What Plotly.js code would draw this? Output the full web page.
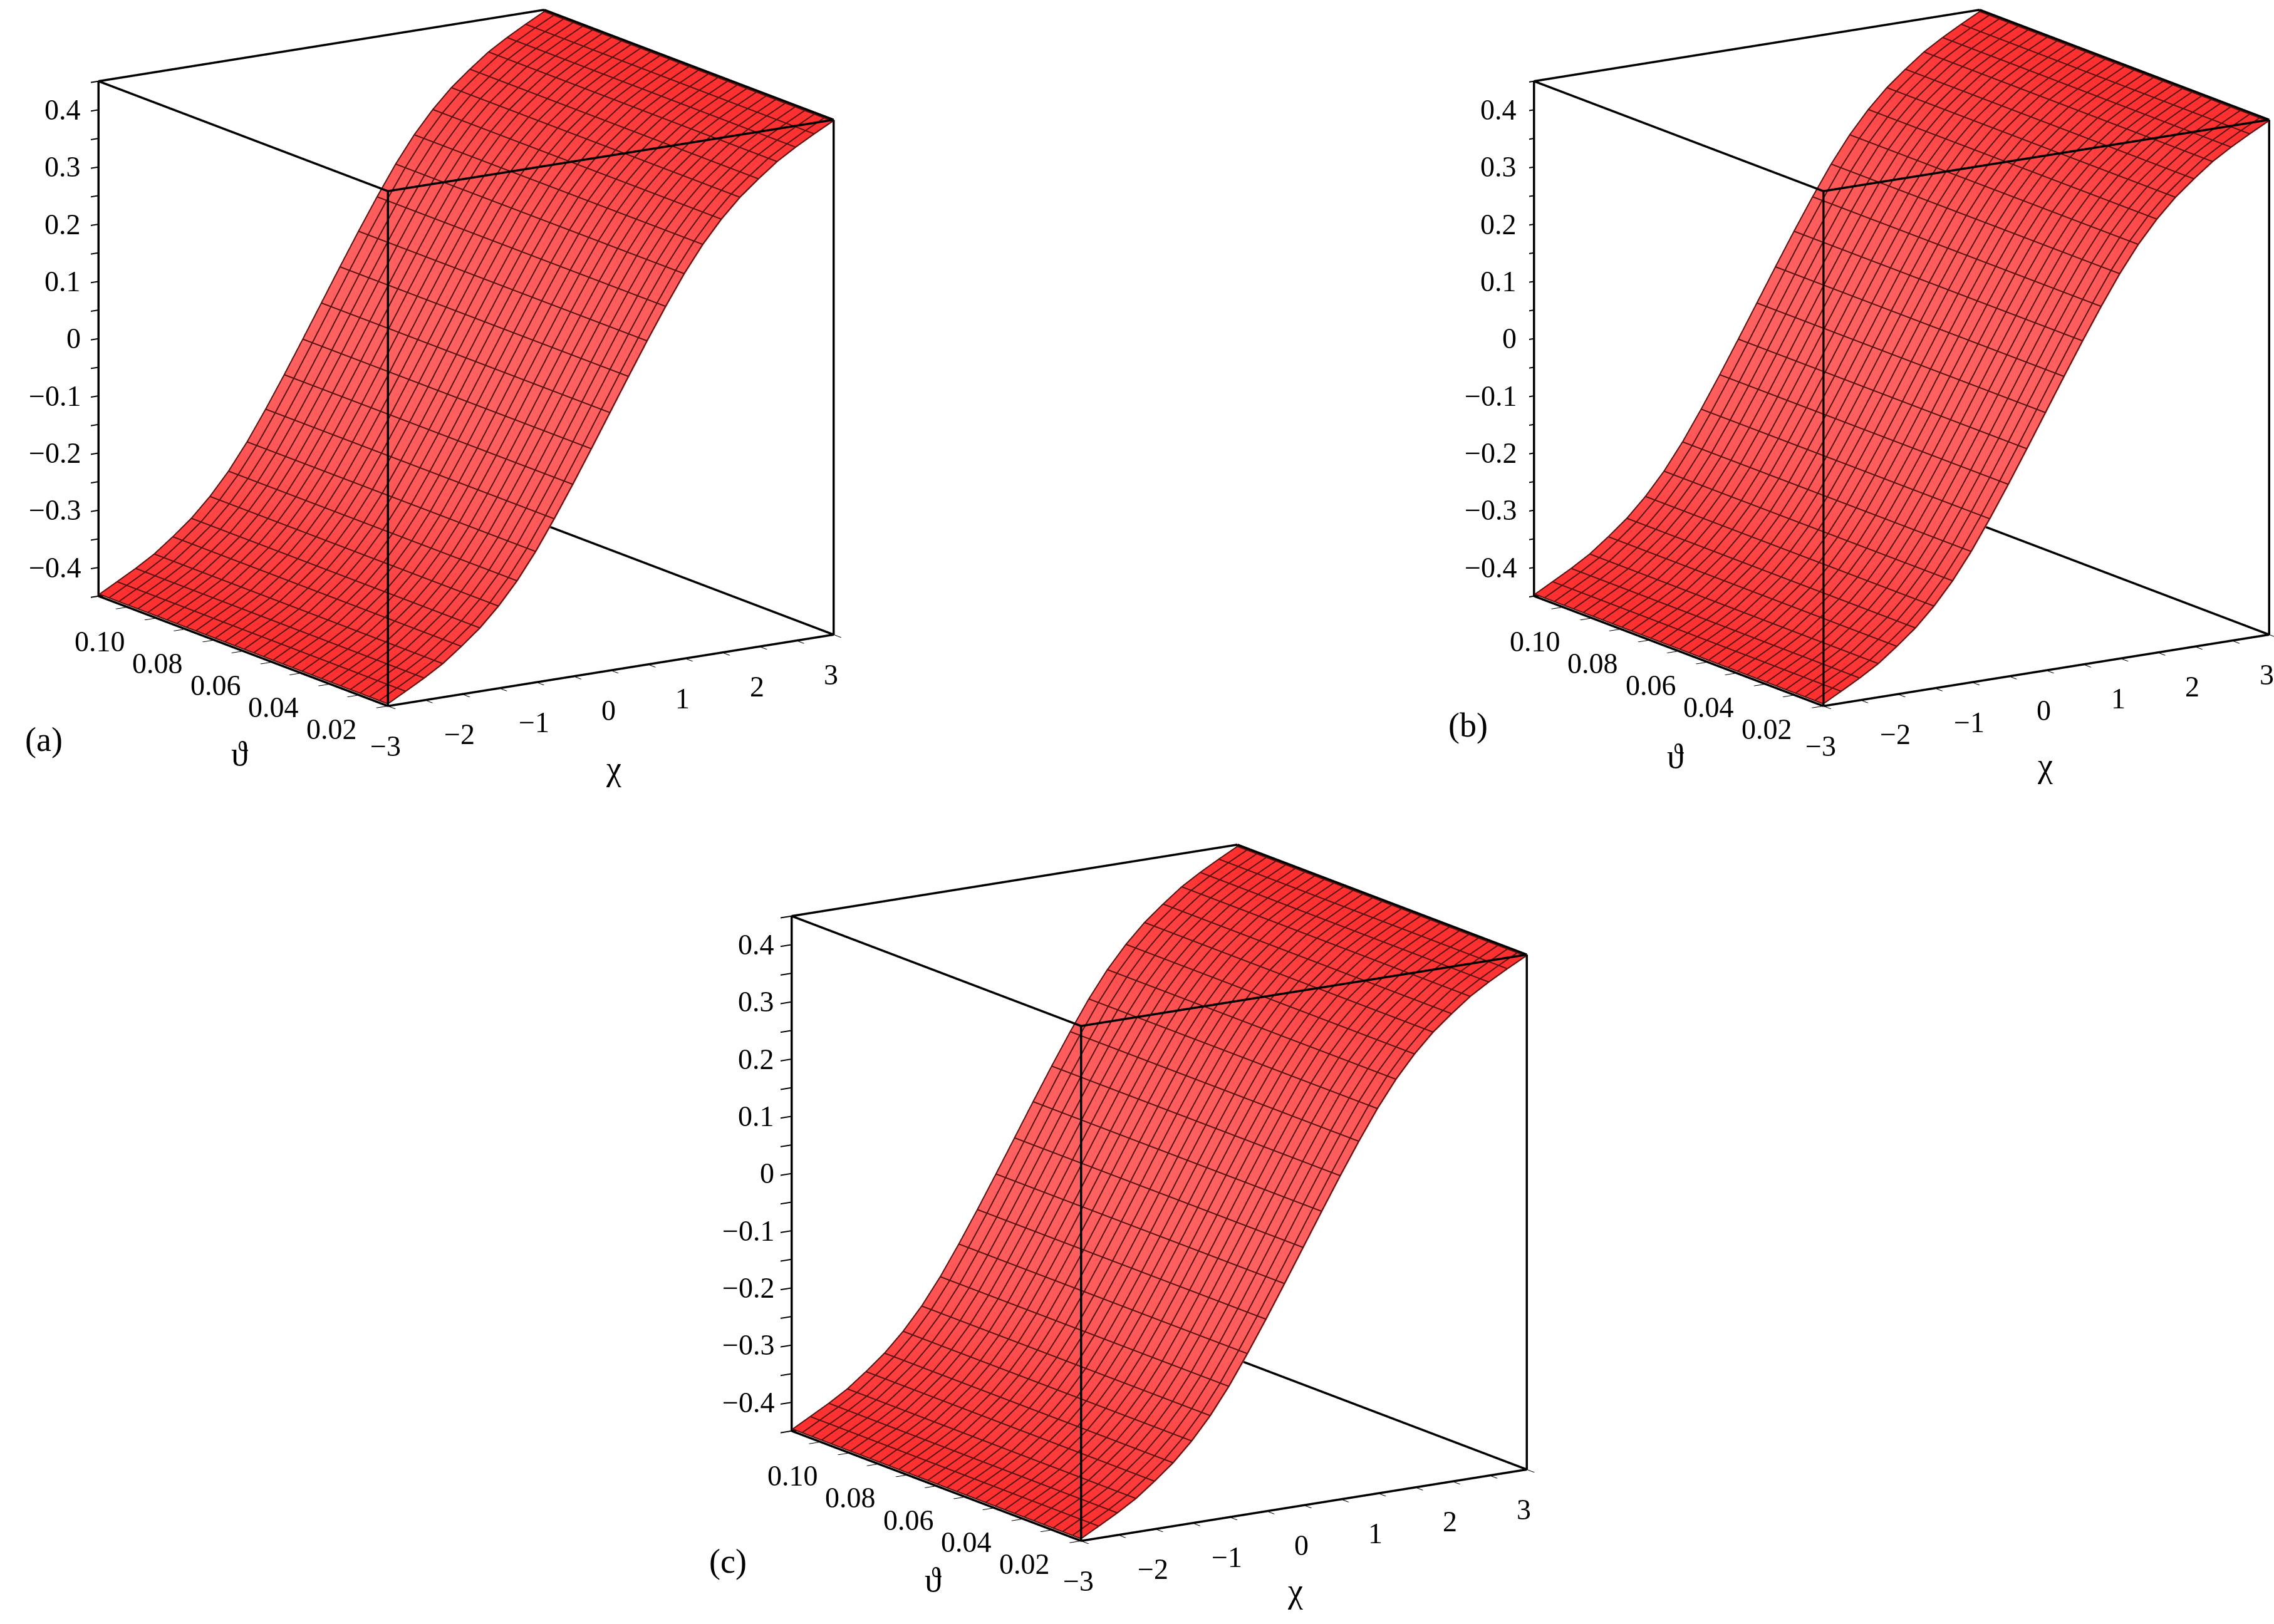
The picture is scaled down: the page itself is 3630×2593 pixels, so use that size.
<!DOCTYPE html>
<html>
<head>
<meta charset="utf-8">
<script src="https://cdn.plot.ly/plotly-3.0.1.min.js"></script>
<style>
html,body{margin:0;padding:0;background:#fff;}
#plot{width:3630px;height:2593px;}
</style>
</head>
<body>
<div id="plot"></div>
<script>
// ---- data ----
const chi = [-3,-2.75,-2.5,-2.25,-2,-1.75,-1.5,-1.25,-1,-0.75,-0.5,-0.25,0,0.25,0.5,0.75,1,1.25,1.5,1.75,2,2.25,2.5,2.75,3];
const theta = [0,0.0033,0.0067,0.01,0.0133,0.0167,0.02,0.0233,0.0267,0.03,0.0333,0.0367,0.04,0.0433,0.0467,0.05,0.0533,0.0567,0.06,0.0633,0.0667,0.07,0.0733,0.0767,0.08,0.0833,0.0867,0.09,0.0933,0.0967,0.1];
const zA = [-0.447,-0.430,-0.412,-0.392,-0.367,-0.340,-0.307,-0.268,-0.222,-0.170,-0.115,-0.058,0,0.058,0.115,0.170,0.222,0.268,0.307,0.340,0.367,0.392,0.412,0.430,0.447];
const zB = [-0.447,-0.430,-0.412,-0.392,-0.367,-0.340,-0.307,-0.268,-0.222,-0.170,-0.115,-0.058,0,0.058,0.115,0.170,0.222,0.268,0.307,0.340,0.367,0.392,0.412,0.430,0.447];
const zC = [-0.447,-0.430,-0.412,-0.392,-0.367,-0.340,-0.307,-0.268,-0.222,-0.170,-0.115,-0.058,0,0.058,0.115,0.170,0.222,0.268,0.307,0.340,0.367,0.392,0.412,0.430,0.447];
const chiRange = [-3,3];
const thetaRange = [0,0.1];
const zRange = [-0.45,0.45];
const chiTicks = [-3,-2,-1,0,1,2,3];
const chiLabels = ['−3','−2','−1','0','1','2','3'];
const chiMinor = [-3,-2.5,-2,-1.5,-1,-0.5,0,0.5,1,1.5,2,2.5,3];
const thetaTicks = [0.02,0.04,0.06,0.08,0.10];
const thetaLabels = ['0.02','0.04','0.06','0.08','0.10'];
const thetaMinor = [0,0.01,0.02,0.03,0.04,0.05,0.06,0.07,0.08,0.09,0.1];
const zTicks = [-0.4,-0.3,-0.2,-0.1,0,0.1,0.2,0.3,0.4];
const zLabels = ['−0.4','−0.3','−0.2','−0.1','0','0.1','0.2','0.3','0.4'];
const zMinor = [-0.45,-0.4,-0.35,-0.3,-0.25,-0.2,-0.15,-0.1,-0.05,0,0.05,0.1,0.15,0.2,0.25,0.3,0.35,0.4,0.45];
const panelLabels = ['(a)','(b)','(c)'];

const dir = [-0.5277,-0.8127,0.2467];   // viewing direction (towards the eye)

function steep(profile){
  return profile.map((v,i)=>{
    const i0=Math.max(0,i-1), i1=Math.min(profile.length-1,i+1);
    return Math.abs((profile[i1]-profile[i0])/(chi[i1]-chi[i0]));
  });
}
function surfaceTrace(profile, scene){
  const zz = theta.map(()=>profile.slice());
  const s = steep(profile);
  const sc = theta.map(()=>s.slice());
  return {
    type:'surface', x:chi, y:theta, z:zz, scene:scene,
    surfacecolor: sc, cmin:0, cmax:Math.max(...s),
    colorscale:[[0,'#ff1414'],[0.4,'#ff3a3a'],[1,'#ff6060']],
    showscale:false, hoverinfo:'skip',
    lighting:{ambient:1, diffuse:0, specular:0, fresnel:0, roughness:1},
    contours:{x:{show:false},y:{show:false},z:{show:false}}
  };
}
function clamp(v, r){ return Math.min(r[1], Math.max(r[0], v)); }
// mesh lines on the surface grid, nudged toward the viewer (depth only), kept inside the axis ranges
function meshTrace(profile, scene){
  const k = 0.004;
  const ox = dir[0]*k*(chiRange[1]-chiRange[0]);
  const oy = dir[1]*k*(thetaRange[1]-thetaRange[0]);
  const oz = dir[2]*k*(zRange[1]-zRange[0]);
  const X=[],Y=[],Z=[];
  const push=(c,t,z)=>{X.push(clamp(c+ox,chiRange));Y.push(clamp(t+oy,thetaRange));Z.push(clamp(z+oz,zRange));};
  theta.forEach(t=>{ chi.forEach((c,i)=>push(c,t,profile[i])); X.push(null);Y.push(null);Z.push(null); });
  chi.forEach((c,i)=>{ theta.forEach(t=>push(c,t,profile[i])); X.push(null);Y.push(null);Z.push(null); });
  return {type:'scatter3d', mode:'lines', x:X, y:Y, z:Z, scene:scene, line:{color:'#581212', width:4}, hoverinfo:'skip', showlegend:false};
}
function boxTrace(scene){
  const [x0,x1]=chiRange,[y0,y1]=thetaRange,[z0,z1]=zRange;
  const X=[],Y=[],Z=[];
  const edges=[
    [[x0,y0,z0],[x1,y0,z0]],[[x0,y1,z0],[x1,y1,z0]],[[x0,y0,z1],[x1,y0,z1]],[[x0,y1,z1],[x1,y1,z1]],
    [[x0,y0,z0],[x0,y1,z0]],[[x1,y0,z0],[x1,y1,z0]],[[x0,y0,z1],[x0,y1,z1]],[[x1,y0,z1],[x1,y1,z1]],
    [[x0,y0,z0],[x0,y0,z1]],[[x1,y0,z0],[x1,y0,z1]],[[x0,y1,z0],[x0,y1,z1]],[[x1,y1,z0],[x1,y1,z1]]
  ];
  edges.forEach(e=>{X.push(e[0][0],e[1][0],null);Y.push(e[0][1],e[1][1],null);Z.push(e[0][2],e[1][2],null);});
  return {type:'scatter3d', mode:'lines', x:X, y:Y, z:Z, scene:scene, line:{color:'#000', width:7}, hoverinfo:'skip', showlegend:false};
}

function axis(range, ticks){
  return {
    range:range, tickvals:ticks, ticks:'outside', ticklen:22, tickwidth:4, tickcolor:'#000',
    showticklabels:false, showgrid:false, zeroline:false, showline:false, showbackground:false, showspikes:false,
    title:{text:''}
  };
}
const labFont = {family:'Liberation Serif', size:46, color:'#000'};
const eps = 1e-6;
function tickAnnotations(){
  const a=[];
  zTicks.forEach((v,i)=>a.push({x:chiRange[0]+eps, y:thetaRange[1]-eps, z:v, text:zLabels[i], showarrow:false, xanchor:'right', yanchor:'middle', xshift:-26, font:labFont}));
  thetaTicks.forEach((v,i)=>a.push({x:chiRange[0]+eps, y:Math.min(v,thetaRange[1]-eps), z:zRange[0]+eps, text:thetaLabels[i], showarrow:false, xanchor:'center', yanchor:'middle', yshift:-72, xshift:2, font:labFont}));
  chiTicks.forEach((v,i)=>a.push({x:Math.max(chiRange[0]+eps,Math.min(v,chiRange[1]-eps)), y:thetaRange[0]+eps, z:zRange[0]+eps, text:chiLabels[i], showarrow:false, xanchor:'center', yanchor:'middle', yshift:-64, xshift:-4, font:labFont}));
  return a;
}
const r = 4;
const sc = 1.487;
function scene(domX, domY){
  return {
    domain:{x:domX, y:domY},
    xaxis:axis(chiRange, chiMinor),
    yaxis:axis(thetaRange, thetaMinor),
    zaxis:axis(zRange, zMinor),
    aspectmode:'manual', aspectratio:{x:sc,y:sc,z:sc},
    camera:{eye:{x:dir[0]*r,y:dir[1]*r,z:dir[2]*r}, up:{x:-0.0131,y:0.0085,z:1}, center:{x:0,y:0,z:0}, projection:{type:'orthographic'}},
    annotations: tickAnnotations()
  };
}

const data = [
  surfaceTrace(zA,'scene'), boxTrace('scene'), meshTrace(zA,'scene'),
  surfaceTrace(zB,'scene2'), boxTrace('scene2'), meshTrace(zB,'scene2'),
  surfaceTrace(zC,'scene3'), boxTrace('scene3'), meshTrace(zC,'scene3')
];

const annFont = {family:'Liberation Serif', size:54, color:'#000'};
function ann(text,x,y){ return {text:text, x:x/3630, y:1-y/2593, xref:'paper', yref:'paper', showarrow:false, xanchor:'center', yanchor:'middle', font:annFont}; }

const layout = {
  width:3630, height:2593, margin:{l:0,r:0,t:0,b:0}, paper_bgcolor:'#fff', showlegend:false,
  scene: scene([0.04,0.37],[0.5595,0.9995]),
  scene2: scene([0.6724,1.0],[0.5595,0.9995]),
  scene3: scene([0.3432,0.6762],[0.0455,0.4855]),
  annotations:[
    ann(panelLabels[0],70,1181), ann('ϑ',382,1204), ann('χ',979,1227),
    ann(panelLabels[1],2343,1158), ann('ϑ',2674,1208), ann('χ',3264,1222),
    ann(panelLabels[2],1162,2493), ann('ϑ',1489,2523), ann('χ',2067,2540)
  ]
};
Plotly.newPlot('plot', data, layout, {displayModeBar:false});
</script>
</body>
</html>
